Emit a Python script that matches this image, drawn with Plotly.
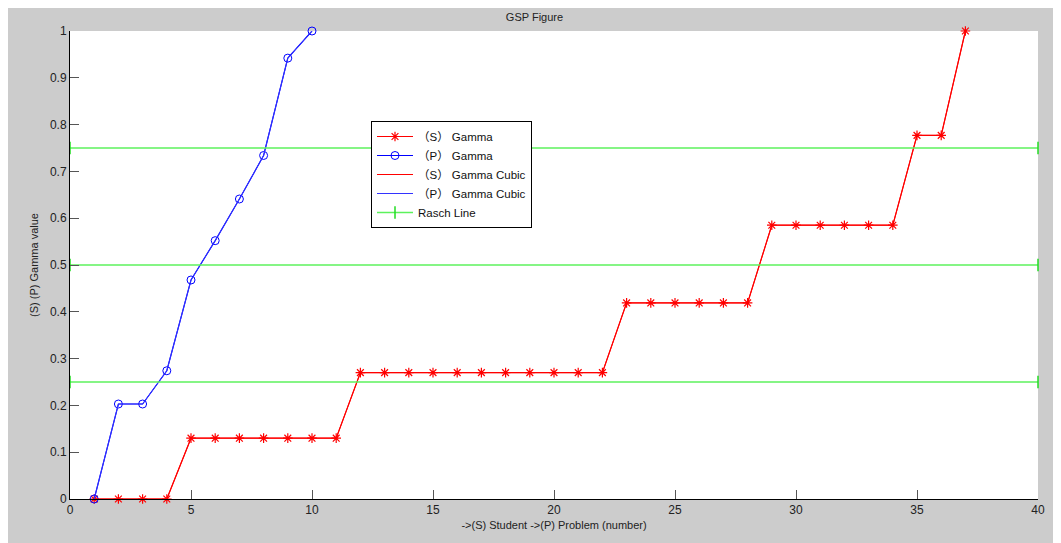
import plotly.graph_objects as go

# Data
p_x = [1, 2, 3, 4, 5, 6, 7, 8, 9, 10]
p_gamma = [0.0, 0.203, 0.203, 0.274, 0.468, 0.552, 0.641, 0.734, 0.942, 1.0]

s_x = list(range(1, 38))
s_gamma = ([0.0] * 4 + [0.13] * 7 + [0.27] * 11 + [0.419] * 6 +
           [0.585] * 6 + [0.777] * 2 + [1.0])

rasch_levels = [0.25, 0.5, 0.75]
x_range = [0, 40]

x_ticks = [0, 5, 10, 15, 20, 25, 30, 35, 40]
y_ticks = [0, 0.1, 0.2, 0.3, 0.4, 0.5, 0.6, 0.7, 0.8, 0.9, 1]

rasch_x, rasch_y = [], []
for i, lv in enumerate(rasch_levels):
    if i:
        rasch_x.append(None)
        rasch_y.append(None)
    rasch_x += x_range
    rasch_y += [lv, lv]

RED = "#ff0000"
BLUE = "#0000ff"
GREEN = "#5cf25c"

fig = go.Figure()
fig.add_trace(go.Scatter(
    x=s_x, y=s_gamma, mode="lines+markers", name="（S） Gamma",
    line=dict(color=RED, width=1.2),
    marker=dict(symbol="asterisk-open", size=8, color=RED, line=dict(color=RED, width=1.2)),
    cliponaxis=False))
fig.add_trace(go.Scatter(
    x=p_x, y=p_gamma, mode="lines+markers", name="（P） Gamma",
    line=dict(color=BLUE, width=1.2),
    marker=dict(symbol="circle-open", size=8, color=BLUE, line=dict(color=BLUE, width=1)),
    cliponaxis=False))
fig.add_trace(go.Scatter(
    x=s_x, y=s_gamma, mode="lines", name="（S） Gamma Cubic",
    line=dict(color=RED, width=1), cliponaxis=False))
fig.add_trace(go.Scatter(
    x=p_x, y=p_gamma, mode="lines", name="（P） Gamma Cubic",
    line=dict(color="#3333ff", width=1), cliponaxis=False))
fig.add_trace(go.Scatter(
    x=rasch_x, y=rasch_y, mode="lines+markers", name="Rasch Line",
    line=dict(color=GREEN, width=1.5),
    marker=dict(symbol="line-ns-open", size=9, color="#22dd22", line=dict(color="#22dd22", width=1.5)),
    cliponaxis=False))

# page body margin of 8px offsets the figure
OFF = 8
W, H = 1061 - OFF, 543 - OFF
L, R, T, B = 70 - OFF, 23, 31 - OFF, 44
pw, ph = W - L - R, H - T - B

def px_x(p):
    return (p - OFF - L) / pw

def px_y(p):
    return (H - B - (p - OFF)) / ph

font = dict(family="Liberation Sans, Arial, sans-serif", size=12, color="#222222")

fig.update_layout(
    width=W, height=H,
    margin=dict(l=L, r=R, t=T, b=B, pad=0),
    paper_bgcolor="#cccccc", plot_bgcolor="#ffffff",
    font=font,
    title=dict(text="GSP Figure", x=px_x(554), xanchor="center", y=1 - (17 - OFF) / H, yanchor="middle",
               font=dict(family="Liberation Sans, Arial, sans-serif", size=11, color="#222222")),
    showlegend=True,
    legend=dict(x=px_x(371), y=px_y(121), xanchor="left", yanchor="top",
                bgcolor="#ffffff", bordercolor="#000000", borderwidth=1,
                font=dict(family="Liberation Sans, Noto Sans CJK SC, Arial, sans-serif", size=11.5, color="#111111"),
                tracegroupgap=0, itemwidth=36),
    xaxis=dict(range=x_range, tickvals=x_ticks, ticktext=[str(v) for v in x_ticks],
               showgrid=False, zeroline=False, showline=True, linecolor="#000000", linewidth=1,
               ticks="inside", ticklen=9, tickcolor="#555555", tickwidth=1,
               title=dict(text="->(S) Student ->(P) Problem (number)", standoff=4,
                          font=dict(size=11, color="#222222")),
               tickfont=dict(size=12)),
    yaxis=dict(range=[0, 1], tickvals=y_ticks, ticktext=[f"{v:g}" for v in y_ticks],
               showgrid=False, zeroline=False, showline=True, linecolor="#000000", linewidth=1,
               ticks="inside", ticklen=9, tickcolor="#555555", tickwidth=1,
               title=dict(text="(S) (P) Gamma value", standoff=9,
                          font=dict(size=11, color="#222222")),
               tickfont=dict(size=12)),
)

fig.write_html("out.html")
